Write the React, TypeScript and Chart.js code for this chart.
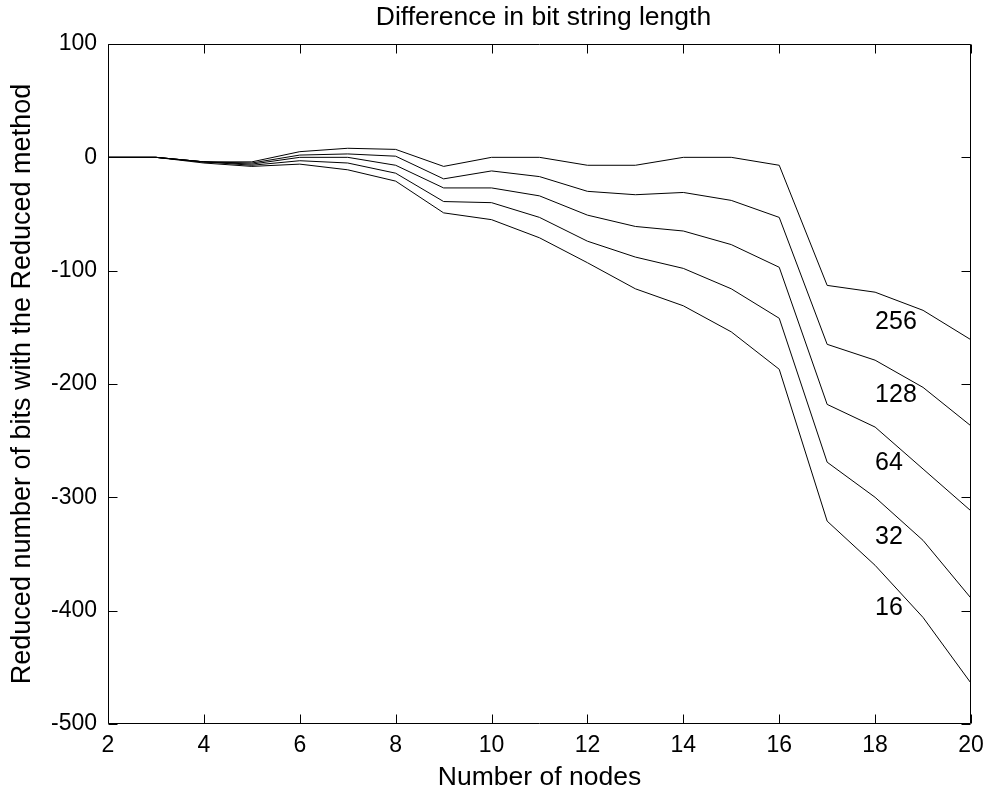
import React, { useEffect, useRef } from "react";
import { Chart, registerables } from "chart.js";

Chart.register(...registerables);

const nodes = [2, 3, 4, 5, 6, 7, 8, 9, 10, 11, 12, 13, 14, 15, 16, 17, 18, 19, 20];
const s256 = [0, 0, -4, -4, 5, 8, 7, -8, 0, 0, -7, -7, 0, 0, -7, -113, -119, -135, -161];
const s128 = [0, 0, -4, -5, 2, 3, 1, -19, -12, -17, -30, -33, -31, -38, -53, -165, -179, -203, -237];
const s64 = [0, 0, -4, -6, 0, 0, -7, -27, -27, -34, -51, -61, -65, -77, -97, -218, -238, -275, -312];
const s32 = [0, 0, -4, -7, -3, -5, -14, -39, -40, -53, -74, -88, -98, -116, -142, -269, -300, -338, -389];
const s16 = [0, 0, -5, -8, -6, -11, -21, -49, -55, -71, -93, -116, -131, -154, -187, -321, -360, -406, -464];
const seriesNames = ["256", "128", "64", "32", "16"];
const seriesValues = [s256, s128, s64, s32, s16];
const labelX = [18, 18, 18, 18, 18];
const labelY = [-145, -210, -270, -335, -398];
const titleText = "Difference in bit string length";

const FONT = "'Liberation Sans', Arial, Helvetica, sans-serif";

const framePlugin = {
  id: "frame",
  afterDatasetsDraw(chart: any) {
    const { ctx, chartArea: a, scales } = chart;
    const x = scales.x;
    const y = scales.y;
    ctx.save();
    ctx.fillStyle = "#000";
    ctx.font = `26.5px ${FONT}`;
    ctx.textAlign = "center";
    ctx.textBaseline = "alphabetic";
    ctx.fillText(titleText, (a.left + a.right) / 2 + 4, 25);
    ctx.font = `25px ${FONT}`;
    ctx.textAlign = "left";
    ctx.textBaseline = "middle";
    seriesNames.forEach((n, i) => {
      ctx.fillText(n, x.getPixelForValue(labelX[i]), y.getPixelForValue(labelY[i]));
    });
    ctx.strokeStyle = "#000";
    ctx.lineWidth = 1;
    const L = Math.round(a.left) + 0.5;
    const R = Math.round(a.right) - 0.5;
    const T = Math.round(a.top) + 0.5;
    const B = Math.round(a.bottom) - 0.5;
    ctx.beginPath();
    ctx.rect(L, T, R - L, B - T);
    const tl = 9;
    x.ticks.forEach((t: any) => {
      const px = Math.round(x.getPixelForValue(t.value)) + 0.5;
      ctx.moveTo(px, B);
      ctx.lineTo(px, B - tl);
      ctx.moveTo(px, T);
      ctx.lineTo(px, T + tl);
    });
    y.ticks.forEach((t: any) => {
      const py = Math.round(y.getPixelForValue(t.value)) + 0.5;
      ctx.moveTo(L, py);
      ctx.lineTo(L + tl, py);
      ctx.moveTo(R, py);
      ctx.lineTo(R - tl, py);
    });
    ctx.stroke();
    ctx.restore();
  },
};

export default function App() {
  const ref = useRef<HTMLCanvasElement | null>(null);
  useEffect(() => {
    if (!ref.current) return;
    const chart = new Chart(ref.current, {
      type: "line",
      data: {
        datasets: seriesNames.map((n, i) => ({
          label: n,
          data: nodes.map((v, j) => ({ x: v, y: seriesValues[i][j] })),
          borderColor: "#000",
          borderWidth: 1,
          pointRadius: 0,
          tension: 0,
          fill: false,
        })),
      },
      options: {
        animation: false,
        responsive: false,
        devicePixelRatio: 1,
        layout: { padding: { left: 0, right: 16, top: 44, bottom: 0 } },
        plugins: {
          legend: { display: false },
          tooltip: { enabled: false },
          title: { display: false },
        },
        scales: {
          x: {
            type: "linear",
            min: 2,
            max: 20,
            grid: { display: false, drawTicks: false },
            border: { display: false },
            ticks: {
              stepSize: 2,
              color: "#000",
              padding: 8,
              font: { family: FONT, size: 23 },
              maxRotation: 0,
            },
            title: {
              display: true,
              text: "Number of nodes",
              color: "#000",
              font: { family: FONT, size: 26.5 },
              padding: { top: 0, bottom: 0 },
            },
            afterFit(scale: any) {
              scale.height = 70;
              scale.paddingLeft = 0;
              scale.paddingRight = 0;
            },
          },
          y: {
            type: "linear",
            min: -500,
            max: 100,
            grid: { display: false, drawTicks: false },
            border: { display: false },
            ticks: {
              stepSize: 100,
              color: "#000",
              padding: 11,
              font: { family: FONT, size: 23 },
            },
            title: {
              display: true,
              text: "Reduced number of bits with the Reduced method",
              color: "#000",
              font: { family: FONT, size: 27 },
              padding: { top: 6, bottom: 0 },
            },
            afterFit(scale: any) {
              scale.width = 108;
              scale.paddingTop = 0;
              scale.paddingBottom = 0;
            },
          },
        },
      },
      plugins: [framePlugin],
    });
    return () => chart.destroy();
  }, []);
  return (
    <div style={{ position: "fixed", left: 0, top: 0, width: 987, height: 794, background: "#fff" }}>
      <canvas ref={ref} width={987} height={794} style={{ width: 987, height: 794 }} />
    </div>
  );
}
